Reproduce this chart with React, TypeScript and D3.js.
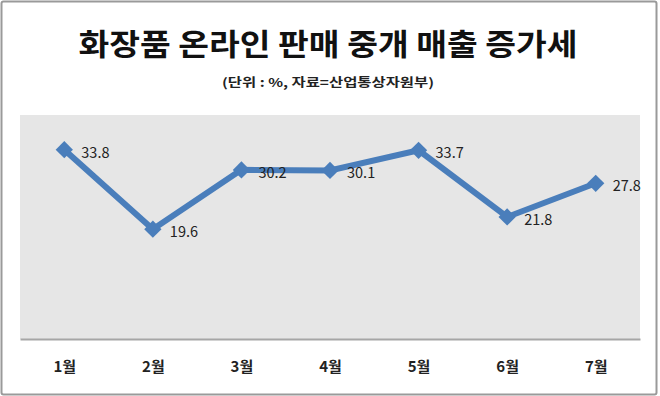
import { useEffect, useRef } from "react"
import * as d3 from "d3"

const months = ["1월", "2월", "3월", "4월", "5월", "6월", "7월"]
const growth = [33.8, 19.6, 30.2, 30.1, 33.7, 21.8, 27.8]
const title = "화장품 온라인 판매 중개 매출 증가세"
const subtitle = "(단위 : %, 자료=산업통상자원부)"

export default function App() {
    const ref = useRef<SVGSVGElement | null>(null)
    const width = 660, height = 396
    const plot = { left: 20, right: 640, top: 115, bottom: 339 }
    const lineColor = "#4a7ebb"
    const font = "'Noto Sans CJK KR', 'Noto Sans', sans-serif"

    useEffect(() => {
        const svg = d3.select(ref.current)
        svg.selectAll("*").remove()

        // outer frame
        svg.append("rect")
            .attr("x", 1.5).attr("y", 1.5)
            .attr("width", 655).attr("height", 393)
            .attr("rx", 2)
            .attr("fill", "white")
            .attr("stroke", "#9a9a9a")
            .attr("stroke-width", 2)

        svg.append("text")
            .attr("x", 328).attr("y", 55)
            .attr("text-anchor", "middle")
            .attr("font-family", font)
            .attr("font-weight", "bold")
            .attr("font-size", 30)
            .attr("textLength", 499)
            .attr("lengthAdjust", "spacingAndGlyphs")
            .attr("fill", "#111")
            .text(title)

        svg.append("text")
            .attr("x", 328).attr("y", 87)
            .attr("text-anchor", "middle")
            .attr("font-family", font)
            .attr("font-weight", "bold")
            .attr("font-size", 12)
            .attr("textLength", 212)
            .attr("lengthAdjust", "spacingAndGlyphs")
            .attr("fill", "#222")
            .text(subtitle)

        const xScale = d3.scalePoint<string>()
            .domain(months)
            .range([plot.left, plot.right])
            .padding(0.5)

        const yScale = d3.scaleLinear()
            .domain([0, 40])
            .range([plot.bottom, plot.top])

        svg.append("rect")
            .attr("x", plot.left).attr("y", plot.top)
            .attr("width", plot.right - plot.left)
            .attr("height", plot.bottom - plot.top)
            .attr("fill", "#e6e6e6")

        const xAxis = d3.axisBottom(xScale).tickSize(0).tickPadding(22)

        const gx = svg.append("g")
            .attr("transform", `translate(0, ${plot.bottom})`)
            .call(xAxis)
        gx.select(".domain")
            .attr("stroke", "#a6a6a6")
            .attr("stroke-width", 2)
        gx.selectAll("text")
            .attr("font-family", font)
            .attr("font-weight", "bold")
            .attr("font-size", 15)
            .attr("fill", "#222")

        const linePath = d3.line<number>()
            .x((d, i) => xScale(months[i]) as number)
            .y((d) => yScale(d))

        svg.append("path")
            .attr("fill", "none")
            .attr("stroke", lineColor)
            .attr("stroke-width", 6)
            .attr("stroke-linejoin", "miter")
            .attr("d", linePath(growth))

        const diamond = d3.symbol().type(d3.symbolDiamond2).size(190)

        svg.append("g")
            .selectAll("path")
            .data(growth)
            .join("path")
            .attr("transform", (d, i) => `translate(${xScale(months[i])}, ${yScale(d)})`)
            .attr("d", diamond)
            .attr("fill", lineColor)

        svg.append("g")
            .selectAll("text")
            .data(growth)
            .join("text")
            .attr("x", (d, i) => (xScale(months[i]) as number) + 17)
            .attr("y", (d) => yScale(d) + 8)
            .attr("font-family", font)
            .attr("font-size", 14.5)
            .attr("fill", "#222")
            .text((d) => d.toFixed(1))
    }, [])

    return (
        <svg ref={ref} width={width} height={height}
            style={{ position: "absolute", left: 0, top: 0, display: "block" }} />
    )
}
